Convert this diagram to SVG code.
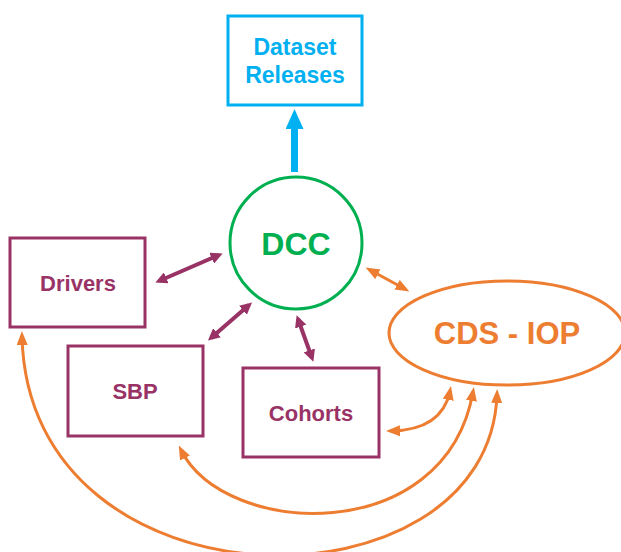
<svg xmlns="http://www.w3.org/2000/svg" width="621" height="552" viewBox="0 0 621 552">
  <defs>
    <style>
      .lbl { font-family: "Liberation Sans", Arial, sans-serif; font-weight: bold; text-anchor: middle; }
      .box-p { fill: #ffffff; stroke: #993366; stroke-width: 3; }
      .txt-p { fill: #993366; font-size: 22px; }
      .con-p { fill: none; stroke: #993366; stroke-width: 4; marker-start: url(#head-p); marker-end: url(#head-p); }
      .con-o { fill: none; stroke: #ED7D31; stroke-width: 3; marker-start: url(#head-o); marker-end: url(#head-o); }
    </style>
    <marker id="head-p" viewBox="0 0 12 12" refX="8" refY="6" markerWidth="12" markerHeight="12" markerUnits="userSpaceOnUse" orient="auto-start-reverse">
      <path d="M0,0 L12,6 L0,12 z" fill="#993366"/>
    </marker>
    <marker id="head-o" viewBox="0 0 14 11" refX="9" refY="5.5" markerWidth="14" markerHeight="11" markerUnits="userSpaceOnUse" orient="auto-start-reverse">
      <path d="M0,0 L14,5.5 L0,11 z" fill="#ED7D31"/>
    </marker>
    <marker id="head-b" viewBox="0 0 20 18" refX="3" refY="9" markerWidth="20" markerHeight="18" markerUnits="userSpaceOnUse" orient="auto">
      <path d="M0,0 L20,9 L0,18 z" fill="#00B0F0"/>
    </marker>
  </defs>

  <!-- connectors -->
  <g id="connectors">
    <!-- DCC to Dataset Releases -->
    <line x1="294.5" y1="172" x2="294.5" y2="126" stroke="#00B0F0" stroke-width="7" marker-end="url(#head-b)"/>
    <!-- purple links to DCC -->
    <line class="con-p" x1="159" y1="281" x2="219" y2="255"/>
    <line class="con-p" x1="211" y1="338" x2="249" y2="305"/>
    <line class="con-p" x1="298" y1="319" x2="312" y2="358"/>
    <!-- DCC to CDS - IOP -->
    <line class="con-o" x1="370" y1="270" x2="405" y2="289"/>
    <!-- CDS - IOP arcs -->
    <path class="con-o" d="M391,431 Q442,430 450,391"/>
    <path class="con-o" d="M181,450 C225,538 445,548 473,392"/>
    <path class="con-o" d="M22,336 C28,618 490,618 497,394"/>
  </g>

  <g id="dataset-releases">
    <rect x="228" y="16" width="134" height="89" fill="#ffffff" stroke="#00B0F0" stroke-width="3"/>
    <text class="lbl" x="295" y="55" fill="#00B0F0" font-size="23">Dataset</text>
    <text class="lbl" x="295" y="83" fill="#00B0F0" font-size="23">Releases</text>
  </g>

  <g id="dcc">
    <circle cx="296" cy="243" r="66" fill="#ffffff" stroke="#00B050" stroke-width="3"/>
    <text class="lbl" x="296" y="255" fill="#00B050" font-size="32">DCC</text>
  </g>

  <g id="drivers">
    <rect class="box-p" x="10" y="238" width="135" height="89"/>
    <text class="lbl txt-p" x="78" y="291">Drivers</text>
  </g>

  <g id="sbp">
    <rect class="box-p" x="68" y="346" width="135" height="90"/>
    <text class="lbl txt-p" x="135" y="399">SBP</text>
  </g>

  <g id="cohorts">
    <rect class="box-p" x="243" y="368" width="136" height="89"/>
    <text class="lbl txt-p" x="311" y="421">Cohorts</text>
  </g>

  <g id="cds-iop">
    <ellipse cx="507" cy="333" rx="118" ry="52" fill="#ffffff" stroke="#ED7D31" stroke-width="3"/>
    <text class="lbl" x="507" y="344" fill="#ED7D31" font-size="31">CDS - IOP</text>
  </g>
</svg>
